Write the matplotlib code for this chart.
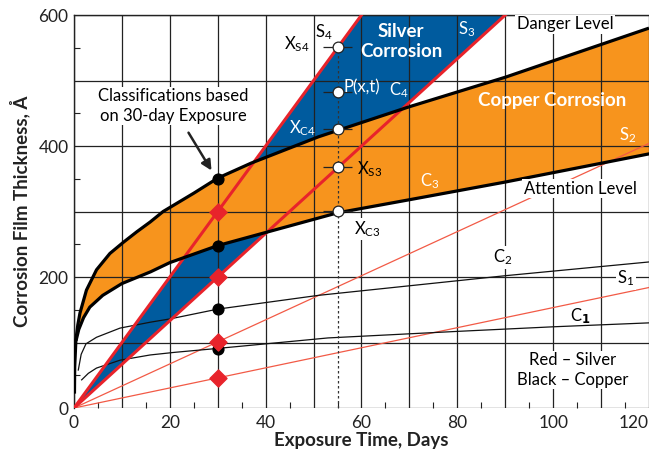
import numpy as np
import matplotlib.pyplot as plt
from matplotlib.ticker import MultipleLocator, FuncFormatter

plt.rcParams['font.family'] = ['Lato', 'DejaVu Sans']
plt.rcParams['mathtext.default'] = 'regular'

# ---- data ----
# copper envelopes (thick black)
c4_t = [0.1, 0.15, 0.4, 0.8, 1.25, 2.6, 4.7, 7.5, 10.3, 13.1, 15.9, 18.6, 25, 30, 37, 51, 70, 90, 120]
c4_y = [22, 63, 104, 127, 145, 180, 211, 236, 253, 269, 284, 300, 328, 351, 374, 414, 460, 505, 580]
c3_t = [0.5, 1, 2, 3.3, 6, 10, 16, 20, 30, 40, 55, 70, 90, 120]
c3_y = [105, 120, 138, 154, 172, 190, 208, 222, 248, 268, 298, 318, 345, 388]
# copper thin curves
c2_t = [0.9, 1.5, 2.5, 4.7, 9.6, 15.9, 20, 30, 51, 90, 120]
c2_y = [58, 82, 98, 108, 122, 131, 136, 151, 172, 202, 223]
c1_t = [1.6, 3, 4.7, 9.6, 15.9, 21, 30, 53, 80, 100, 120]
c1_y = [43, 53, 61, 73, 81, 85, 91, 107, 117, 124, 130]

# silver lines through origin, value at 30 days
silver_names = ['S1', 'S2', 'S3', 'S4']
silver_at30 = [46, 101, 200, 300]
copper_at30 = [90, 151, 248, 350]

# point P(x,t) at 55 days
p_t = 55
p_levels = [301, 368, 426, 482, 551]

RED = '#e8232b'
ORANGE = '#f7941d'
BLUE = '#005b9e'

fig = plt.figure(figsize=(6.49, 4.51), dpi=100)
ax = fig.add_axes([0.114, 0.0953, 0.886, 0.8714])
ax.set_xlim(0, 120)
ax.set_ylim(0, 600)
ax.set_axisbelow(False)

t_line = np.array([0, 120])
s_lines = {n: np.array(v) / 30.0 * t_line for n, v in zip(silver_names, silver_at30)}

# silver corrosion band (between S3 and S4)
ax.fill_between(t_line, s_lines['S3'], s_lines['S4'], color=BLUE, lw=0, zorder=1)
# copper corrosion band (between C3 and C4)
ax.fill(np.concatenate([c4_t, c3_t[::-1]]), np.concatenate([c4_y, c3_y[::-1]]),
        color=ORANGE, lw=0, zorder=1.2)

# grid and ticks
ax.xaxis.set_major_locator(MultipleLocator(10))
ax.xaxis.set_minor_locator(MultipleLocator(5))
ax.yaxis.set_major_locator(MultipleLocator(100))
ax.yaxis.set_minor_locator(MultipleLocator(50))
ax.xaxis.set_major_formatter(FuncFormatter(lambda v, p: f'{v:.0f}' if v % 20 == 0 else ''))
ax.yaxis.set_major_formatter(FuncFormatter(lambda v, p: f'{v:.0f}' if v % 200 == 0 else ''))
ax.grid(True, which='major', color='#222222', lw=0.9)
ax.tick_params(which='major', length=0, labelsize=12.5, pad=4, colors='#222222')
ax.tick_params(which='minor', direction='in', length=4, width=0.8, color='#222222')
ax.tick_params(axis='x', pad=5)
for side in ['bottom', 'right']:
    ax.spines[side].set_visible(False)
for side in ['top', 'left']:
    ax.spines[side].set_color('#222222')
    ax.spines[side].set_linewidth(1.0)
fig.canvas.draw()
for lab in ax.get_xticklabels():
    if lab.get_text() == '120':
        lab.set_horizontalalignment('right')
        lab.set_x(lab.get_position()[0] + 1.0)

# silver lines
ax.plot(t_line, s_lines['S4'], color=RED, lw=2.2, zorder=4)
ax.plot(t_line, s_lines['S3'], color=RED, lw=2.2, zorder=4)
ax.plot(t_line, s_lines['S2'], color='#f25a46', lw=0.9, zorder=3)
ax.plot(t_line, s_lines['S1'], color='#f25a46', lw=0.9, zorder=3)

# copper curves
ax.plot(c4_t, c4_y, color='black', lw=2.3, zorder=4.5, solid_capstyle='butt')
ax.plot(c3_t, c3_y, color='black', lw=2.3, zorder=4.5)
ax.plot(c2_t, c2_y, color='#111111', lw=0.9, zorder=3)
ax.plot(c1_t, c1_y, color='#111111', lw=0.9, zorder=3)

# 30-day classification points
ax.scatter([30] * 4, copper_at30, s=60, color='black', zorder=6)
ax.scatter([30] * 4, silver_at30, s=75, marker='D', color=RED, zorder=6)

# point P(x,t) construction at 55 days
ax.vlines(p_t, 0, max(p_levels), colors='#333333', lw=0.9, linestyles=(0, (2, 2)), zorder=5)
ax.hlines(p_levels, p_t - 3, p_t + 3, colors='#222222', lw=0.9, zorder=5)
ax.scatter([p_t] * len(p_levels), p_levels, s=60, facecolor='white',
           edgecolor='#222222', lw=0.9, zorder=7)

wbox = dict(facecolor='white', edgecolor='none', pad=1)
fs = 12
ax.text(50.3, 574, '$S_4$', fontsize=fs, ha='left', va='center', zorder=8)
ax.text(46.6, 556, '$X_{S4}$', fontsize=fs, ha='center', va='center', zorder=8)
ax.text(68.3, 559, 'Silver\nCorrosion', fontsize=13.5, fontweight='bold', color='white',
        ha='center', va='center', linespacing=1.2, zorder=8)
ax.text(82, 579, '$S_3$', fontsize=fs, color='white', ha='center', va='center', zorder=8)
ax.text(102.5, 586, 'Danger Level', fontsize=fs, ha='center', va='center', bbox=wbox, zorder=8)
ax.text(56.3, 490, 'P(x,t)', fontsize=fs, color='white', ha='left', va='center', zorder=8)
ax.text(67.8, 485, '$C_4$', fontsize=fs, color='white', ha='center', va='center', zorder=8)
ax.text(99.8, 469, 'Copper Corrosion', fontsize=13.5, fontweight='bold', color='white',
        ha='center', va='center', zorder=8)
ax.text(47.8, 428, '$X_{C4}$', fontsize=fs, color='white', ha='center', va='center', zorder=8)
ax.text(115.5, 416, '$S_2$', fontsize=fs, color='white', ha='center', va='center', zorder=8)
ax.text(61.7, 364, '$X_{S3}$', fontsize=fs, ha='center', va='center', zorder=8)
ax.text(74.3, 347, '$C_3$', fontsize=fs, color='white', ha='center', va='center', zorder=8)
ax.text(105.6, 335, 'Attention Level', fontsize=fs, ha='center', va='center', bbox=wbox, zorder=8)
ax.text(61.2, 273, '$X_{C3}$', fontsize=fs, ha='center', va='center', bbox=wbox, zorder=8)
ax.text(89.4, 230, '$C_2$', fontsize=fs, ha='center', va='center', bbox=wbox, zorder=8)
ax.text(115.2, 198, '$S_1$', fontsize=fs, ha='center', va='center', bbox=wbox, zorder=8)
ax.text(105.6, 141, '$C_\\mathbf{1}$', fontsize=fs, ha='center', va='center', zorder=8)
ax.text(104, 58, 'Red \u2013 Silver\nBlack \u2013 Copper', fontsize=fs, ha='center', va='center',
        linespacing=1.3, bbox=wbox, zorder=8)
ax.text(20.7, 461, 'Classifications based\non 30-day Exposure', fontsize=fs, ha='center',
        va='center', linespacing=1.25, bbox=wbox, zorder=8)
ax.annotate('', xy=(29.0, 359), xytext=(23.6, 424),
            arrowprops=dict(arrowstyle='-|>', color='#222222', lw=1.8, mutation_scale=15),
            zorder=8)

ax.set_xlabel('Exposure Time, Days', fontsize=13.5, fontweight='bold', labelpad=1, color='#222222')
ax.set_ylabel('Corrosion Film Thickness, \u00c5', fontsize=13.5, fontweight='bold', labelpad=6,
              color='#222222')

fig.savefig('out.png', dpi=100)
